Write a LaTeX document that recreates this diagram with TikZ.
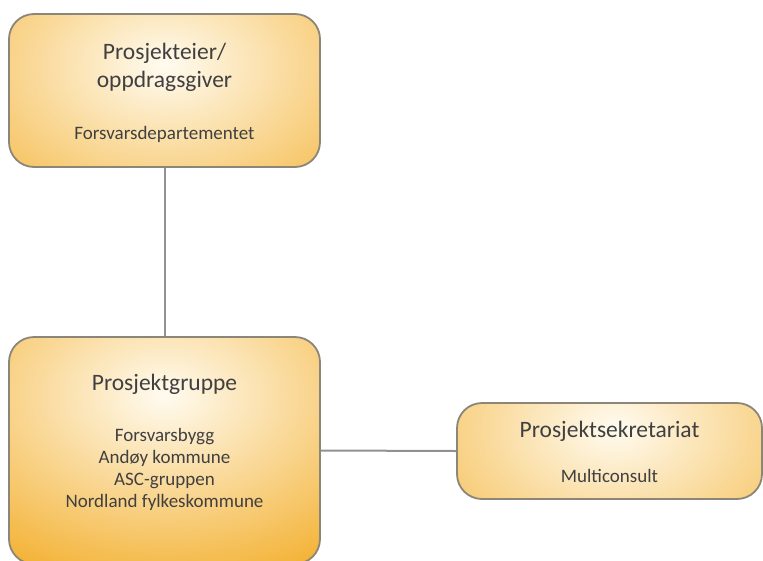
\documentclass[tikz,border=0pt]{standalone}
\usepackage{fontspec}
\setmainfont{Carlito}
\usetikzlibrary{calc,backgrounds}
\definecolor{boxorange}{RGB}{243,176,48}
\definecolor{boxlight}{RGB}{255,251,240}
\definecolor{boxline}{RGB}{140,134,120}
\definecolor{linkgray}{RGB}{145,145,145}
\definecolor{txt}{RGB}{64,64,64}
\tikzset{
  orgbox/.style n args={4}{draw=boxline, line width=1.8pt, rounded corners=25pt,
    fill=boxorange, inner sep=0pt, minimum width=#1, minimum height=#2,
    path picture={\shade[inner color=boxlight, outer color=boxorange]
      ($(path picture bounding box.center)+(#3,#4)$) ellipse [x radius=290pt, y radius=200pt];}},
  titletxt/.style={anchor=base, text=txt, font=\fontsize{23.5}{28}\selectfont, inner sep=0pt},
  subtxt/.style={anchor=base, text=txt, font=\fontsize{19}{23}\selectfont, inner sep=0pt},
  link/.style={draw=linkgray, line width=2pt},
}
\begin{document}
\begin{tikzpicture}[x=1pt,y=-1pt]
\useasboundingbox (0,0) rectangle (763,560);
\clip (0,0) rectangle (763,560);
\node[orgbox={311pt}{153pt}{0}{-25}] (owner) at (164.5,90.5) {};
\node[orgbox={311pt}{227pt}{0}{-55}] (group) at (164.5,450.5) {};
\node[orgbox={305pt}{96pt}{5}{-23}] (secr) at (609.5,451) {};
\begin{scope}[on background layer]
\draw[link] (owner.south) -- (group.north);
\draw[link] (group.east) -- (secr.west);
\end{scope}
\node[titletxt] (t1a) at (164.5,59) {Prosjekteier/};
\node[titletxt] (t1b) at (164.5,87) {oppdragsgiver};
\node[subtxt] (s1) at (164.5,139) {Forsvarsdepartementet};
\node[titletxt] (t2) at (164.5,390) {Prosjektgruppe};
\node[subtxt] (s2a) at (164.5,441) {Forsvarsbygg};
\node[subtxt] (s2b) at (164.5,463) {Andøy kommune};
\node[subtxt] (s2c) at (164.5,485) {ASC-gruppen};
\node[subtxt] (s2d) at (164.5,507) {Nordland fylkeskommune};
\node[titletxt] (t3) at (609.5,437) {Prosjektsekretariat};
\node[subtxt] (s3) at (609.5,482) {Multiconsult};
\end{tikzpicture}
\end{document}
